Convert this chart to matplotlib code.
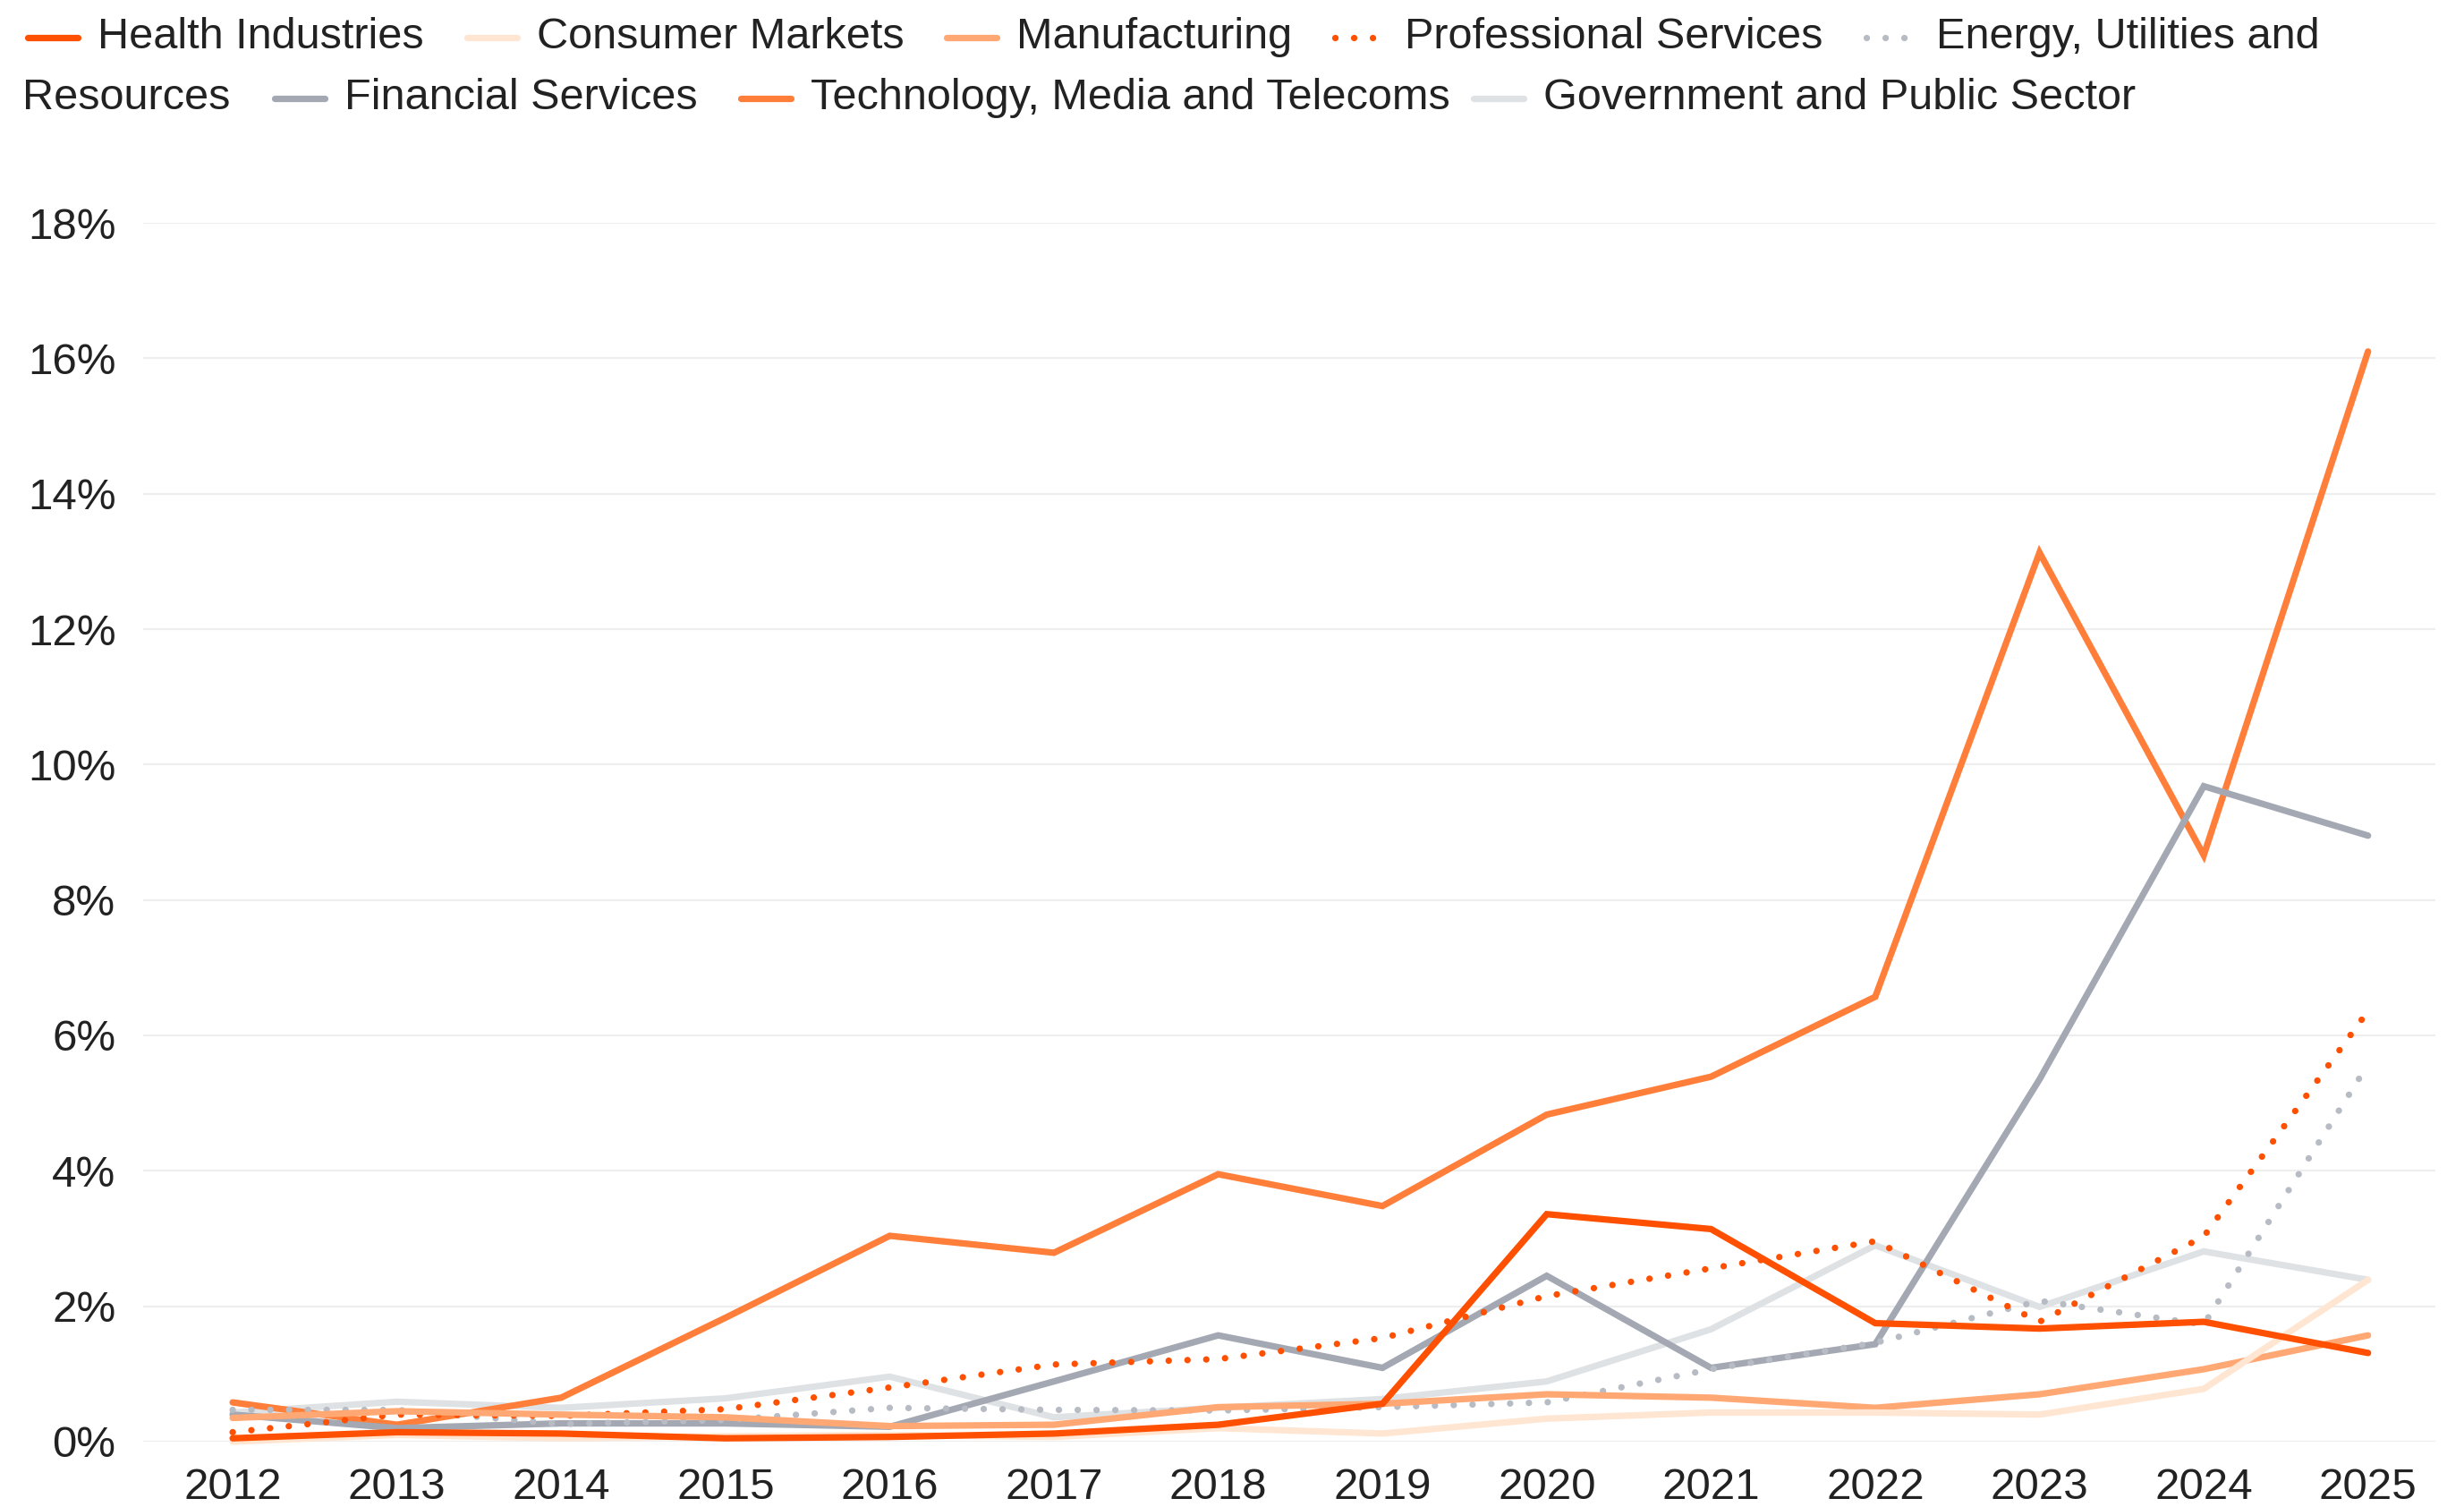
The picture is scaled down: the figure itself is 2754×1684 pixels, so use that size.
import matplotlib.pyplot as plt
from matplotlib.lines import Line2D

plt.rcParams['font.family'] = ['Liberation Sans', 'DejaVu Sans']

years = list(range(2012, 2026))

health = [0.05, 0.14, 0.12, 0.05, 0.07, 0.12, 0.25, 0.56, 3.36, 3.14, 1.75, 1.67, 1.77, 1.31]
consumer = [0.0, 0.1, 0.05, 0.08, 0.1, 0.07, 0.2, 0.12, 0.34, 0.43, 0.43, 0.4, 0.78, 2.39]
manufacturing = [0.35, 0.45, 0.4, 0.36, 0.23, 0.25, 0.51, 0.56, 0.7, 0.65, 0.5, 0.7, 1.07, 1.57]
professional = [0.14, 0.4, 0.38, 0.48, 0.8, 1.14, 1.22, 1.53, 2.15, 2.56, 2.96, 1.77, 3.03, 6.36]
energy = [0.47, 0.47, 0.26, 0.32, 0.5, 0.47, 0.46, 0.51, 0.58, 1.07, 1.46, 2.08, 1.73, 5.57]
financial = [0.4, 0.2, 0.27, 0.27, 0.22, 0.89, 1.57, 1.09, 2.45, 1.09, 1.44, 5.35, 9.68, 8.95]
technology = [0.58, 0.25, 0.65, 1.83, 3.04, 2.79, 3.95, 3.48, 4.83, 5.39, 6.57, 13.13, 8.66, 16.1]
government = [0.43, 0.59, 0.5, 0.64, 0.96, 0.36, 0.5, 0.63, 0.89, 1.66, 2.9, 1.99, 2.81, 2.39]

names = ["Health Industries", "Consumer Markets", "Manufacturing", "Professional Services",
         "Energy, Utilities and Resources", "Financial Services",
         "Technology, Media and Telecoms", "Government and Public Sector"]
series = [health, consumer, manufacturing, professional, energy, financial, technology, government]
colors = ["#FE5000", "#FFE6D2", "#FFA874", "#FE5000", "#B7BCC4", "#A3A8B3", "#FF7F3A", "#DFE2E5"]
dotted = [False, False, False, True, True, False, False, False]

W, H = 2754, 1684
fig = plt.figure(figsize=(W / 100, H / 100), dpi=100)
ax = fig.add_axes([160 / W, 1 - 1611 / H, (2722 - 160) / W, (1611 - 249) / H])

LW = 5.2
DOTS = (0, (0.01, 2.9))
for i, (name, vals) in enumerate(zip(names, series)):
    kw = dict(color=colors[i], lw=LW, solid_capstyle='round', solid_joinstyle='miter',
              clip_on=False, zorder=10 - i)
    if dotted[i]:
        kw.update(linestyle=DOTS, dash_capstyle='round')
    ax.plot(years, vals, **kw)

ax.set_xlim(2012 - 0.545, 2025 + 0.41)
ax.set_ylim(0, 18)
ax.set_yticks(range(0, 19, 2))
ax.set_yticklabels([f"{v}%" for v in range(0, 19, 2)])
ax.set_xticks(years)
ax.grid(axis='y', color='#EEEEEE', lw=1.6)
ax.set_axisbelow(True)
for s in ax.spines.values():
    s.set_visible(False)
ax.tick_params(axis='both', length=0, labelsize=35.5, colors='#222222')
ax.tick_params(axis='y', pad=22)
ax.tick_params(axis='x', pad=21)

# legend laid out as a wrapping row of items
fig.canvas.draw()
renderer = fig.canvas.get_renderer()
rows_y = [42, 110]
fs = 35


def fx(px):
    return px / W


def fy(py):
    return 1 - py / H


def put_text(x, y, s):
    t = fig.text(fx(x), fy(y), s, fontsize=fs, color='#222222', va='center', ha='left')
    bb = t.get_window_extent(renderer)
    return x + bb.width


def put_handle(x, y, i):
    kw = dict(color=colors[i], lw=LW, solid_capstyle='round')
    if dotted[i]:
        kw.update(linestyle=DOTS, dash_capstyle='round')
    fig.add_artist(Line2D([fx(x + 6), fx(x + 62)], [fy(y), fy(y)], transform=fig.transFigure, **kw))


x = 25
row = 0
for i, name in enumerate(names):
    y = rows_y[row]
    put_handle(x, y, i)
    if name.startswith("Energy"):
        put_text(x + 84, y, "Energy, Utilities and")
        row = 1
        x = put_text(25, rows_y[row], "Resources") + 44
        continue
    gap = 20 if name.startswith("Technology") else 42
    x = put_text(x + 84, y, name) + gap

fig.savefig("out.png", dpi=100)
